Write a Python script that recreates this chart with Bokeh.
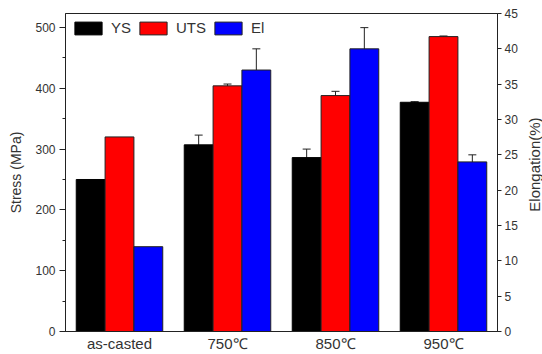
import math
from bokeh.plotting import figure
from bokeh.layouts import row
from bokeh.models import (ColumnDataSource, Range1d, LinearAxis, SingleIntervalTicker,
                          Whisker, TeeHead, Legend, LegendItem, FactorRange, Label)
from bokeh.transform import dodge
from bokeh.embed import file_html
from bokeh.resources import INLINE

categories = ["as-casted", "750℃", "850℃", "950℃"]
ys = [250, 307, 286, 377]
ys_err = [0, 16, 14, 1]
uts = [320, 404, 388, 485]
uts_err = [0, 3, 7, 1]
el = [12, 37, 40, 24]
el_err = [0, 3, 3, 1]

FONT = "Liberation Sans"
TXT = "#333333"
W = 0.267

src = ColumnDataSource(dict(cat=categories, ys=ys, uts=uts, el=el))

p = figure(x_range=FactorRange(*categories), y_range=Range1d(0, 523),
           width=520, height=354, output_backend="svg", toolbar_location=None,
           min_border_left=65, min_border_right=21, min_border_top=13, min_border_bottom=0)
p.extra_y_ranges = {"el": Range1d(0, 45)}

r_ys = p.vbar(x=dodge("cat", -W, range=p.x_range), top="ys", width=W, source=src,
              fill_color="black", line_color="black", line_width=1)
r_uts = p.vbar(x=dodge("cat", 0, range=p.x_range), top="uts", width=W, source=src,
               fill_color="#ff0000", line_color="#222222", line_width=1)
r_el = p.vbar(x=dodge("cat", W, range=p.x_range), top="el", width=W, source=src,
              fill_color="#0000ff", line_color="#222222", line_width=1, y_range_name="el")

def add_err(vals, errs, off, rng=None):
    idx = [i for i, e in enumerate(errs) if e > 0]
    s = ColumnDataSource(dict(cat=[categories[i] for i in idx],
                              lo=[vals[i] - errs[i] for i in idx],
                              hi=[vals[i] + errs[i] for i in idx]))
    kw = {}
    if rng:
        kw["y_range_name"] = rng
    w = Whisker(base=dodge("cat", off, range=p.x_range), lower="lo", upper="hi", source=s,
                line_color="#222222", line_width=1,
                upper_head=TeeHead(size=8, line_color="#222222", line_width=1),
                lower_head=TeeHead(size=8, line_color="#222222", line_width=1), **kw)
    p.add_layout(w)

add_err(ys, ys_err, -W)
add_err(uts, uts_err, 0)
add_err(el, el_err, W, "el")

p.xgrid.visible = False
p.ygrid.visible = False
p.outline_line_color = "#222222"
p.outline_line_width = 1

# left axis
ya = p.yaxis[0]
ya.ticker = SingleIntervalTicker(interval=100, num_minor_ticks=2)
ya.axis_label = "Stress (MPa)"
ya.axis_label_text_font = FONT
ya.axis_label_text_font_size = "14px"
ya.axis_label_text_font_style = "normal"
ya.axis_label_text_color = TXT
ya.axis_label_standoff = 8
ya.major_label_text_font = FONT
ya.major_label_text_font_size = "12px"
ya.major_label_text_color = TXT
ya.major_label_standoff = 4
ya.major_tick_out = 6
ya.major_tick_in = 0
ya.minor_tick_out = 3
ya.minor_tick_in = 0
ya.axis_line_color = "#222222"
ya.major_tick_line_color = "#222222"
ya.minor_tick_line_color = "#222222"

# x axis
xa = p.xaxis[0]
xa.major_tick_out = 0
xa.major_tick_in = 0
xa.major_label_text_font = FONT
xa.major_label_text_font_size = "15px"
xa.major_label_text_color = TXT
xa.major_label_standoff = 3
xa.axis_line_color = "#222222"

# right axis (ticks and numbers)
ra = LinearAxis(y_range_name="el", ticker=SingleIntervalTicker(interval=5, num_minor_ticks=0))
ra.major_label_text_font = FONT
ra.major_label_text_font_size = "12px"
ra.major_label_text_color = TXT
ra.major_label_standoff = 3
ra.major_tick_out = 4
ra.major_tick_in = 0
ra.minor_tick_out = 0
ra.minor_tick_in = 0
ra.axis_line_color = "#222222"
ra.major_tick_line_color = "#222222"
p.add_layout(ra, "right")

legend = Legend(items=[LegendItem(label="YS", renderers=[r_ys]),
                       LegendItem(label="UTS", renderers=[r_uts]),
                       LegendItem(label="El", renderers=[r_el])],
                orientation="horizontal", location="top_left",
                glyph_width=34, glyph_height=16, label_standoff=6, spacing=5,
                margin=6, padding=4, border_line_color=None,
                background_fill_alpha=0,
                label_text_font=FONT, label_text_font_size="15px", label_text_color=TXT)
p.add_layout(legend)

# narrow strip holding the right-hand axis title (reads bottom to top)
p2 = figure(width=22, height=354, x_range=Range1d(0, 1), y_range=Range1d(0, 1),
            output_backend="svg", toolbar_location=None,
            min_border_left=0, min_border_right=0, min_border_top=0, min_border_bottom=0)
p2.axis.visible = False
p2.grid.visible = False
p2.outline_line_color = None
p2.add_layout(Label(x=0.62, y=0.525, text="Elongation(%)", angle=math.pi / 2,
                    text_align="center", text_baseline="middle",
                    text_font=FONT, text_font_size="15px", text_color=TXT))

layout = row(p, p2)
open("out.html", "w").write(file_html(layout, INLINE))
